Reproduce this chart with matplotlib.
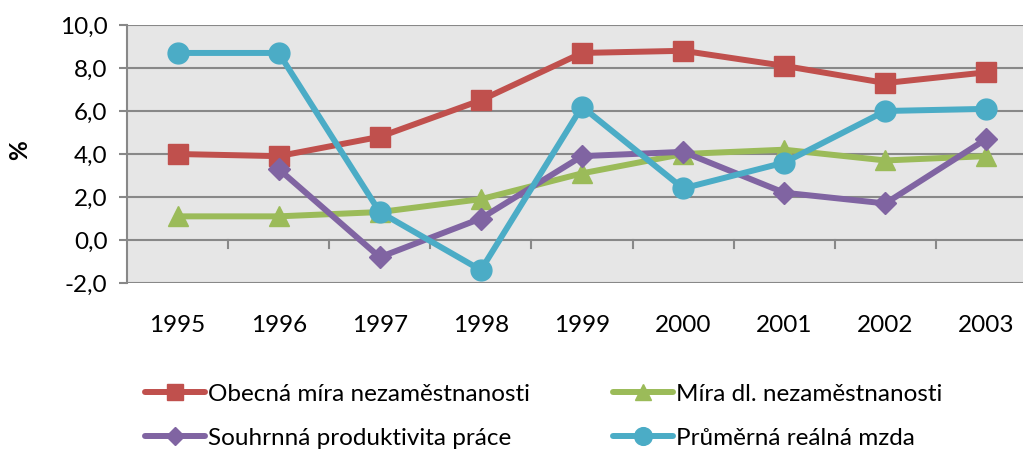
import numpy as np
import matplotlib.pyplot as plt
from matplotlib.ticker import FuncFormatter

years = ["1995", "1996", "1997", "1998", "1999", "2000", "2001", "2002", "2003"]
obecna = [4.0, 3.9, 4.8, 6.5, 8.7, 8.8, 8.1, 7.3, 7.8]
dlouhodoba = [1.1, 1.1, 1.3, 1.9, 3.1, 4.0, 4.2, 3.7, 3.9]
produktivita = [np.nan, 3.3, -0.8, 1.0, 3.9, 4.1, 2.2, 1.7, 4.7]
mzda = [8.7, 8.7, 1.3, -1.4, 6.2, 2.4, 3.6, 6.0, 6.1]

labels = [
    "Obecná míra nezaměstnanosti",
    "Míra dl. nezaměstnanosti",
    "Souhrnná produktivita práce",
    "Průměrná reálná mzda",
]

plt.rcParams["font.family"] = ["Lato", "DejaVu Sans"]
FS = 17.5

fig = plt.figure(figsize=(10.23, 4.5), dpi=100)
ax = fig.add_axes([127 / 1023, 1 - 283 / 450, 910 / 1023, 258 / 450])
ax.set_facecolor("#e6e6e6")

x = np.arange(len(years))
series = [
    (obecna, "#c0504d", "s", 14),
    (dlouhodoba, "#9bbb59", "^", 14),
    (produktivita, "#8064a2", "D", 11),
    (mzda, "#4bacc6", "o", 15),
]
handles = []
for vals, col, mk, ms in series:
    h, = ax.plot(x, vals, color=col, lw=4.3, marker=mk, markersize=ms,
                 solid_capstyle="round", zorder=3)
    handles.append(h)

ax.set_xlim(-0.5, 8.5)
ax.set_ylim(-2, 10)
ax.set_yticks(np.arange(-2, 10.1, 2))
ax.yaxis.set_major_formatter(FuncFormatter(lambda v, p: f"{v:.1f}".replace(".", ",")))
ax.grid(axis="y", color="#888888", lw=1.5)
ax.set_axisbelow(True)
for s in ["top", "right", "bottom"]:
    ax.spines[s].set_visible(False)
ax.spines["left"].set_color("#888888")
ax.spines["left"].set_linewidth(1.5)
ax.tick_params(axis="y", length=6, width=1.5, color="#888888", labelsize=FS, pad=8)

# category axis crosses at zero
ax.set_xticks([])
for b in np.arange(0.5, 8, 1):
    ax.plot([b, b], [0, -0.35], color="#888888", lw=1.5, zorder=2, clip_on=False)
for i, yr in enumerate(years):
    ax.text(i, -4.0, yr, ha="center", va="center", fontsize=FS)

fig.text(20 / 1023, 1 - 150 / 450, "%", rotation=90, ha="center", va="center",
         fontsize=FS, fontweight="bold")

order = [0, 2, 1, 3]
fig.legend([handles[i] for i in order], [labels[i] for i in order],
           loc="upper left", bbox_to_anchor=(135 / 1023, 1 - 374 / 450),
           borderaxespad=0, ncol=2, frameon=False, fontsize=FS,
           handlelength=2.5, handletextpad=0.1, columnspacing=3.4,
           labelspacing=0.95, markerscale=0.85)

fig.savefig("out.png", dpi=100)
